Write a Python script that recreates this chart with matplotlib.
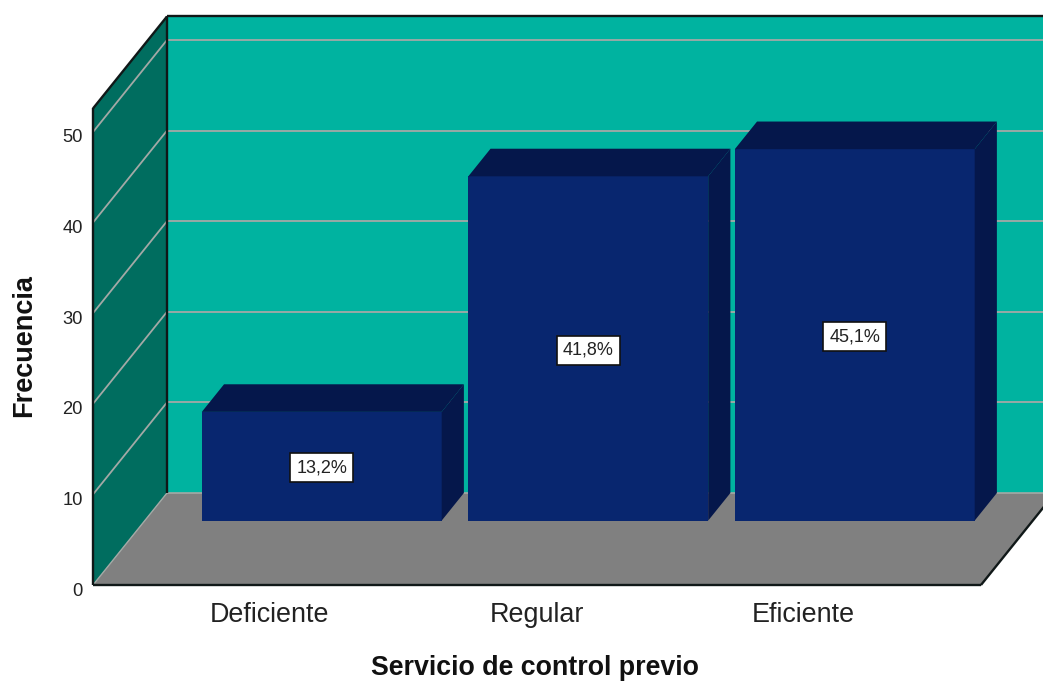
import matplotlib
matplotlib.use('Agg')
import matplotlib.pyplot as plt
from matplotlib.transforms import ScaledTranslation

categorias = ['Deficiente', 'Regular', 'Eficiente']
frecuencias = [12, 38, 41]
porcentajes = ['13,2%', '41,8%', '45,1%']
ticks_y = [0, 10, 20, 30, 40, 50]

plt.rcParams['font.family'] = ['Liberation Sans', 'DejaVu Sans']

W, H = 1043, 681
PX_X = 266.5   # pixeles por categoria
PX_Y = 9.06    # pixeles por unidad de frecuencia

# perspectiva oblicua del grafico 3D
DX = 74 / PX_X
DY = 92 / PX_Y
X0, X1 = -0.664, 2.668
TOPE = 52.6
ANCHO = 0.9
BAR_F0 = 0.70   # profundidad de la cara frontal de las barras

C_PARED = '#00B3A0'
C_LATERAL = '#006D5F'
C_SUELO = '#808080'
C_BARRA = '#08266F'
C_LADO = '#05174B'
C_GRID = '#A3A9A6'
C_BORDE = '#101818'
C_TEXTO = '#222222'


def p(x, y, d=0.0):
    return x + d * DX, y + d * DY


def cara(ax, puntos, color, z, edge=None, lw=0.0):
    xs = [q[0] for q in puntos]
    ys = [q[1] for q in puntos]
    ax.fill(xs, ys, facecolor=color, edgecolor=edge if edge else color,
            lw=lw, zorder=z, clip_on=False)


def linea(ax, a, b, color, lw, z):
    ax.plot([a[0], b[0]], [a[1], b[1]], color=color, lw=lw, zorder=z,
            clip_on=False, solid_capstyle='butt')


fig = plt.figure(figsize=(W / 100, H / 100), dpi=100)
ax = fig.add_axes([93 / W, (H - 585) / H, (W - 93) / W, 585 / H])
ax.set_xlim(X0, X0 + (W - 93) / PX_X)
ax.set_ylim(0, 585 / PX_Y)
for s in ax.spines.values():
    s.set_visible(False)
ax.patch.set_visible(False)

# paredes y suelo
cara(ax, [p(X0, 0, 1), p(X1 + 1, 0, 1), p(X1 + 1, TOPE, 1), p(X0, TOPE, 1)], C_PARED, 1)
cara(ax, [p(X0, 0, 0), p(X0, 0, 1), p(X0, TOPE, 1), p(X0, TOPE, 0)], C_LATERAL, 1)
cara(ax, [p(X0, 0, 0), p(X1, 0, 0), p(X1, 0, 1), p(X0, 0, 1)], C_SUELO, 2)

# rejilla
for t in ticks_y[1:]:
    linea(ax, p(X0, t, 0), p(X0, t, 1), C_GRID, 1.3, 3)
    linea(ax, p(X0, t, 1), p(X1 + 1, t, 1), C_GRID, 1.3, 3)
linea(ax, p(X0, 0, 1), p(X1 + 1, 0, 1), C_GRID, 1.2, 3)
linea(ax, p(X0, 0, 0), p(X0, 0, 1), C_GRID, 1.0, 3)

# bordes
linea(ax, p(X0, 0, 1), p(X0, TOPE, 1), C_BORDE, 1.7, 4)
linea(ax, p(X0, TOPE, 1), p(X1 + 1, TOPE, 1), C_BORDE, 1.7, 4)
linea(ax, p(X0, 0, 0), p(X0, TOPE, 0), C_BORDE, 1.7, 4)
linea(ax, p(X0, TOPE, 0), p(X0, TOPE, 1), C_BORDE, 1.7, 4)
linea(ax, p(X0, 0, 0), p(X1, 0, 0), C_BORDE, 1.7, 4)
linea(ax, p(X1, 0, 0), p(X1, 0, 1), C_BORDE, 1.7, 4)

# barras
for i, v in enumerate(frecuencias):
    x0 = i - ANCHO / 2
    x1 = i + ANCHO / 2
    f0, f1 = BAR_F0, 1.0
    cara(ax, [p(x0, 0, f0), p(x1, 0, f0), p(x1, v, f0), p(x0, v, f0)], C_BARRA, 5)
    cara(ax, [p(x0, v, f0), p(x1, v, f0), p(x1, v, f1), p(x0, v, f1)], C_LADO, 5)
    cara(ax, [p(x1, 0, f0), p(x1, 0, f1), p(x1, v, f1), p(x1, v, f0)], C_LADO, 5)
    cx, cy = p(i, v / 2, f0)
    ax.annotate(porcentajes[i], (cx, cy), xytext=(0, -1.2), textcoords='offset points',
                fontsize=13, color=C_TEXTO, ha='center', va='center', zorder=6,
                annotation_clip=False,
                bbox=dict(boxstyle='square,pad=0.33', fc='white', ec='#111111', lw=1.2))

ax.set_xticks(range(len(categorias)))
ax.set_xticklabels(categorias, fontsize=19.4, color=C_TEXTO)
ax.set_yticks(ticks_y)
ax.tick_params(axis='x', length=0, pad=12)
ax.tick_params(axis='y', length=0, pad=7.5, labelsize=13.2, labelcolor=C_TEXTO)
baja = ScaledTranslation(0, -4 / 100, fig.dpi_scale_trans)
for lab in ax.get_yticklabels():
    lab.set_transform(lab.get_transform() + baja)

ax.set_xlabel('Servicio de control previo', fontsize=19.3, fontweight='bold', color='#111111')
ax.xaxis.set_label_coords((535 - 93) / (W - 93), -(668 - 585) / 585, transform=ax.transAxes)
ax.xaxis.label.set_va('center')
ax.set_ylabel('Frecuencia', fontsize=19.5, fontweight='bold', color='#111111')
ax.yaxis.set_label_coords((24 - 93) / (W - 93), (585 - 346) / 585, transform=ax.transAxes)
ax.yaxis.label.set_va('center')

fig.savefig('out.png', dpi=100, facecolor='white')
